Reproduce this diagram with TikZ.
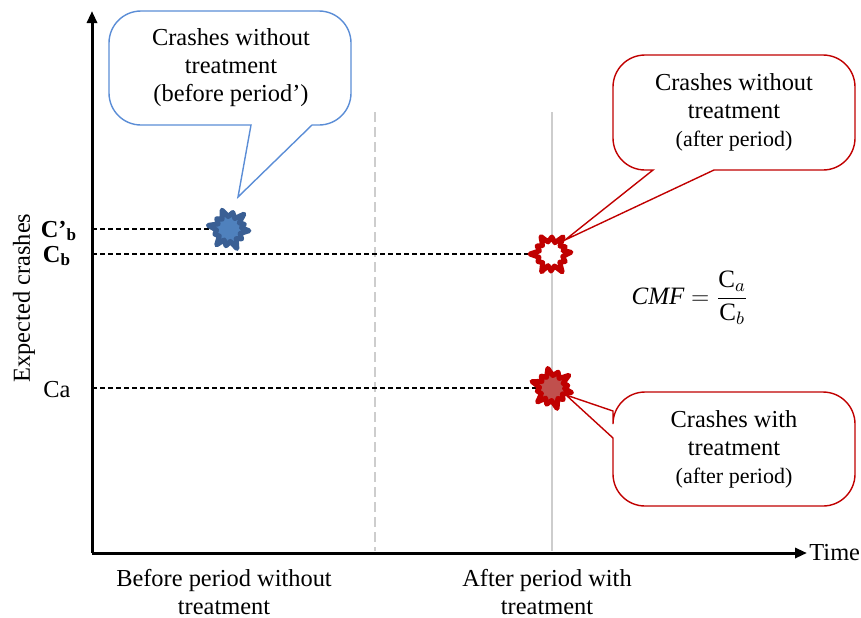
\documentclass[tikz,border=0pt]{standalone}
\usepackage{fontspec}
\setmainfont{Liberation Serif}
\usetikzlibrary{arrows.meta}
\definecolor{boxblue}{RGB}{91,141,214}
\definecolor{starblue}{RGB}{58,95,148}
\definecolor{starbluefill}{RGB}{79,129,189}
\definecolor{crashred}{RGB}{192,0,0}
\definecolor{crashredfill}{RGB}{192,80,77}
\definecolor{guide}{RGB}{205,205,205}
\tikzset{
  crash/.pic={
    \path[pic actions] (5:20) -- (22:12) -- (38:16) -- (53:12) -- (68:21) -- (84:12.5)
      -- (100:17) -- (114:12) -- (128:20) -- (144:12) -- (160:15) -- (175:12.5)
      -- (190:21) -- (205:12) -- (220:16) -- (235:12) -- (250:20) -- (266:12.5)
      -- (283:17) -- (299:12) -- (315:21) -- (329:12) -- (343:16) -- (354:12.5) -- cycle;
  },
  level/.style={dash pattern=on 2.3pt off 1.7pt, line width=0.6pt},
  txt/.style={font=\fontsize{12.2}{14}\selectfont, align=center},
  axis/.style={line width=1.5pt, -{Triangle[length=6pt,width=5pt]}},
}
\begin{document}
\begin{tikzpicture}[x=0.5pt,y=-0.5pt]
  \useasboundingbox (0,0) rectangle (861,617);
  \coordinate (origin) at (92,553);
  \coordinate (ytop) at (92,11);
  \coordinate (xend) at (807,553);
  \coordinate (blueStar) at (229,229);
  \coordinate (redStar) at (551,254);
  \coordinate (redFill) at (552,388);
  \coordinate (beforeTip) at (238,197);
  \coordinate (afterTip) at (565,240);
  \coordinate (withTip) at (566,395);

  \draw[guide, line width=1pt, dash pattern=on 5pt off 2.5pt] (375,112) -- (375,551);
  \draw[guide, line width=0.8pt] (552,112) -- (552,551);

  \draw[level] (blueStar -| origin) -- (blueStar);
  \draw[level] (redStar -| origin) -- (redStar);
  \draw[level] (redFill -| origin) -- (redFill);

  \pic[draw=starblue, fill=starbluefill, line width=2.5pt, line join=round] at (blueStar) {crash};
  \pic[draw=crashred, fill=white, line width=2.5pt, line join=round, rotate=10] at (redStar) {crash};
  \pic[draw=crashred, fill=crashredfill, line width=2.5pt, line join=round, rotate=-8] at (redFill) {crash};

  \draw[boxblue, line width=0.7pt] (251,125) [rounded corners=16] -- (109,125) -- (109,11)
    -- (351,11) -- (351,125) [sharp corners] -- (312,125) -- (beforeTip) -- cycle;
  \draw[crashred, line width=0.7pt] (653,170) [rounded corners=16] -- (613,170) -- (613,55)
    -- (855,55) -- (855,170) [sharp corners] -- (714,170) -- (afterTip) -- cycle;
  \draw[crashred, line width=0.7pt] (613,411) [rounded corners=16] -- (613,392) -- (855,392)
    -- (855,506) -- (613,506) [sharp corners] -- (613,438) -- (withTip) -- cycle;

  \node[txt] (beforeBox) at (231,68) {Crashes without\\treatment\\(before period’)};
  \node[txt] (afterBox) at (734,112) {Crashes without\\treatment\\{\fontsize{11}{14}\selectfont (after period)}};
  \node[txt] (withBox) at (734,449) {Crashes with\\treatment\\{\fontsize{11}{14}\selectfont (after period)}};

  \draw[axis] (origin) -- (ytop);
  \draw[axis] (origin) -- (xend);

  \node[txt, anchor=west, inner sep=1pt] (timeLbl) at (xend) {Time};
  \node[txt, rotate=90] (yLbl) at (24,298) {Expected crashes};
  \node[txt] (cbpLbl) at (59,231) {\textbf{C’\textsubscript{b}}};
  \node[txt] (cbLbl) at (57,256) {\textbf{C\textsubscript{b}}};
  \node[txt] (caLbl) at (57,390) {Ca};
  \node[txt] (beforeLbl) at (224,592) {Before period without\\treatment};
  \node[txt] (afterLbl) at (547,592) {After period with\\treatment};
  \node[font=\fontsize{12.5}{14}\selectfont] (cmf) at (690,298) {$\mathit{CMF}=\displaystyle\frac{\mathrm{C}_a}{\mathrm{C}_b}$};
\end{tikzpicture}
\end{document}
